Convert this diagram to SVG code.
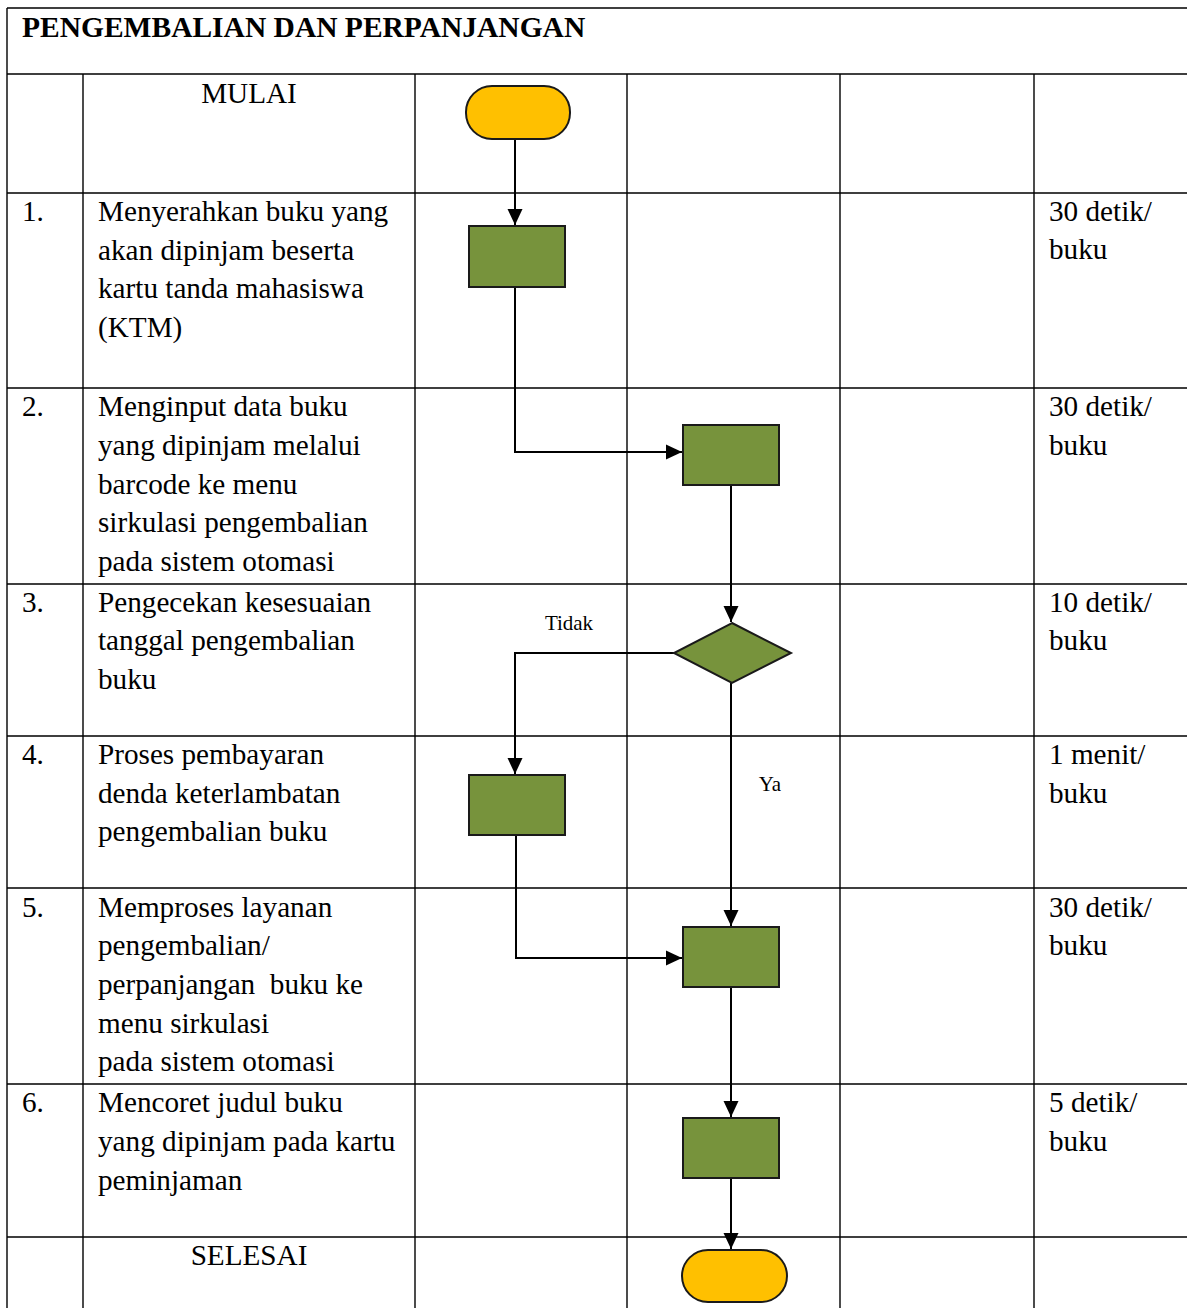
<svg xmlns="http://www.w3.org/2000/svg" width="1187" height="1308" viewBox="0 0 1187 1308">
<style>
.grid{stroke:#000;stroke-width:1.4;fill:none}
.t{font-family:"Liberation Serif","Times New Roman",serif;font-size:29.2px;fill:#000}
.b{font-weight:bold;font-size:29.5px}
.s{font-family:"Liberation Serif","Times New Roman",serif;font-size:21px;fill:#000}
.proc{fill:#77933C;stroke:#1a1a1a;stroke-width:2}
.term{fill:#FFC000;stroke:#1a1a1a;stroke-width:2}
.c{stroke:#000;stroke-width:2;fill:none}
</style>
<defs>
<marker id="ah" markerUnits="userSpaceOnUse" markerWidth="17" markerHeight="17" viewBox="0 0 17 17" refX="16" refY="8.5" orient="auto">
<path d="M0,1 L16,8.5 L0,16 Z" fill="#000"/>
</marker>
</defs>
<rect width="1187" height="1308" fill="#fff"/>
<g id="table">
<path class="grid" d="M7,8 H1187 M7,74 H1187 M7,193 H1187 M7,388 H1187 M7,584 H1187 M7,736 H1187 M7,888 H1187 M7,1084 H1187 M7,1237 H1187 M7,8 V1308 M83,74 V1308 M415,74 V1308 M627,74 V1308 M840,74 V1308 M1034,74 V1308"/>
<text class="t b" x="22" y="37">PENGEMBALIAN DAN PERPANJANGAN</text>
<text class="t" x="249" y="103" text-anchor="middle">MULAI</text>
<text class="t" x="249" y="1265" text-anchor="middle">SELESAI</text>
<g id="row1">
<text class="t" x="22" y="221">1.</text>
<text class="t" x="98" y="221">Menyerahkan buku yang</text>
<text class="t" x="98" y="260">akan dipinjam beserta</text>
<text class="t" x="98" y="298">kartu tanda mahasiswa</text>
<text class="t" x="98" y="337">(KTM)</text>
<text class="t" x="1049" y="221">30 detik/</text>
<text class="t" x="1049" y="259">buku</text>
</g>
<g id="row2">
<text class="t" x="22" y="416">2.</text>
<text class="t" x="98" y="416">Menginput data buku</text>
<text class="t" x="98" y="455">yang dipinjam melalui</text>
<text class="t" x="98" y="494">barcode ke menu</text>
<text class="t" x="98" y="532">sirkulasi pengembalian</text>
<text class="t" x="98" y="571">pada sistem otomasi</text>
<text class="t" x="1049" y="416">30 detik/</text>
<text class="t" x="1049" y="455">buku</text>
</g>
<g id="row3">
<text class="t" x="22" y="612">3.</text>
<text class="t" x="98" y="612">Pengecekan kesesuaian</text>
<text class="t" x="98" y="650">tanggal pengembalian</text>
<text class="t" x="98" y="689">buku</text>
<text class="t" x="1049" y="612">10 detik/</text>
<text class="t" x="1049" y="650">buku</text>
</g>
<g id="row4">
<text class="t" x="22" y="764">4.</text>
<text class="t" x="98" y="764">Proses pembayaran</text>
<text class="t" x="98" y="803">denda keterlambatan</text>
<text class="t" x="98" y="841">pengembalian buku</text>
<text class="t" x="1049" y="764">1 menit/</text>
<text class="t" x="1049" y="803">buku</text>
</g>
<g id="row5">
<text class="t" x="22" y="917">5.</text>
<text class="t" x="98" y="917">Memproses layanan</text>
<text class="t" x="98" y="955">pengembalian/</text>
<text class="t" x="98" y="994" xml:space="preserve">perpanjangan  buku ke</text>
<text class="t" x="98" y="1033">menu sirkulasi</text>
<text class="t" x="98" y="1071">pada sistem otomasi</text>
<text class="t" x="1049" y="917">30 detik/</text>
<text class="t" x="1049" y="955">buku</text>
</g>
<g id="row6">
<text class="t" x="22" y="1112">6.</text>
<text class="t" x="98" y="1112">Mencoret judul buku</text>
<text class="t" x="98" y="1151">yang dipinjam pada kartu</text>
<text class="t" x="98" y="1190">peminjaman</text>
<text class="t" x="1049" y="1112">5 detik/</text>
<text class="t" x="1049" y="1151">buku</text>
</g>
</g>
<g id="connectors">
<path class="c" d="M515,139 V225" marker-end="url(#ah)"/>
<path class="c" d="M515,287 V452 H682" marker-end="url(#ah)"/>
<path class="c" d="M731,485 V622" marker-end="url(#ah)"/>
<path class="c" d="M674,653 H515 V774" marker-end="url(#ah)"/>
<path class="c" d="M731,683 V926" marker-end="url(#ah)"/>
<path class="c" d="M516,835 V958 H682" marker-end="url(#ah)"/>
<path class="c" d="M731,987 V1117" marker-end="url(#ah)"/>
<path class="c" d="M731,1178 V1249" marker-end="url(#ah)"/>
<text class="s" x="569" y="630" text-anchor="middle">Tidak</text>
<text class="s" x="770" y="791" text-anchor="middle">Ya</text>
</g>
<g id="start"><rect class="term" x="466" y="86" width="104" height="53" rx="26" ry="26"/></g>
<g id="p1"><rect class="proc" x="469" y="226" width="96" height="61"/></g>
<g id="p2"><rect class="proc" x="683" y="425" width="96" height="60"/></g>
<g id="d1"><polygon class="proc" points="732,623 791,653 732,683 674,653"/></g>
<g id="p4"><rect class="proc" x="469" y="775" width="96" height="60"/></g>
<g id="p5"><rect class="proc" x="683" y="927" width="96" height="60"/></g>
<g id="p6"><rect class="proc" x="683" y="1118" width="96" height="60"/></g>
<g id="end"><rect class="term" x="682" y="1250" width="105" height="52" rx="26" ry="26"/></g>
</svg>
